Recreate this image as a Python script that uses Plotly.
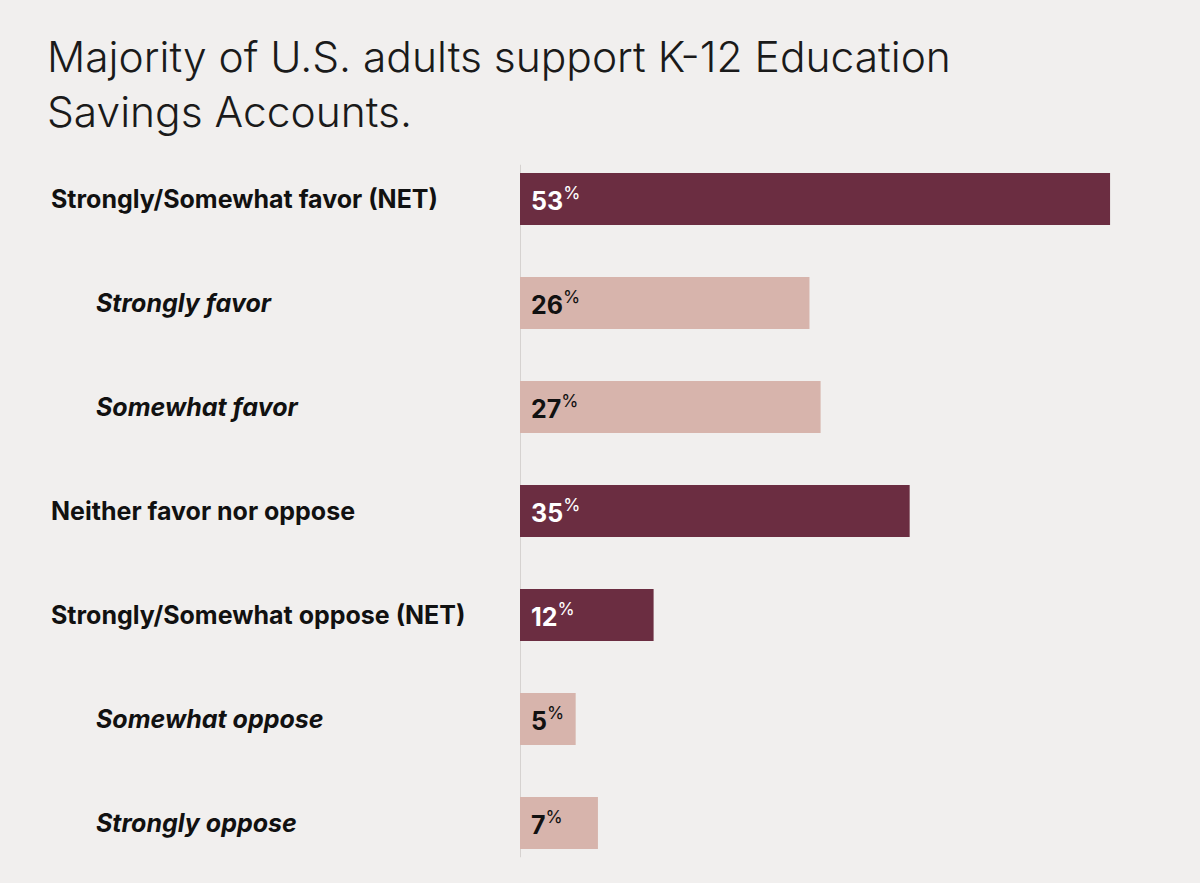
import plotly.graph_objects as go

categories = [
    "Strongly/Somewhat favor (NET)",
    "Strongly favor",
    "Somewhat favor",
    "Neither favor nor oppose",
    "Strongly/Somewhat oppose (NET)",
    "Somewhat oppose",
    "Strongly oppose",
]
values = [53, 26, 27, 35, 12, 5, 7]
is_net = [True, False, False, True, True, False, False]
title_text = "Majority of U.S. adults support K-12 Education<br>Savings Accounts."

DARK = "#6b2d41"
LIGHT = "#d7b4ac"
BG = "#f1efee"
FONT = "Inter"

colors = [DARK if n else LIGHT for n in is_net]

fig = go.Figure()
fig.add_trace(go.Bar(
    y=categories,
    x=values,
    orientation="h",
    marker=dict(color=colors, line=dict(width=0)),
    width=0.5,
    hoverinfo="skip",
))

annotations = []
for cat, val, net in zip(categories, values, is_net):
    annotations.append(dict(
        x=0, y=cat, xref="x", yref="y",
        text=f"<b>{val}</b><sup>%</sup>",
        xanchor="left", yanchor="middle", xshift=9, showarrow=False,
        font=dict(family=FONT, size=25, color="#ffffff" if net else "#111111"),
    ))
    if net:
        label = f"<b>{cat}</b>"
        shift = -471
    else:
        label = f"<b><i>{cat}</i></b>"
        shift = -426
    annotations.append(dict(
        x=0, y=cat, xref="x", yref="y",
        text=label, xanchor="left", yanchor="middle", xshift=shift,
        showarrow=False,
        font=dict(family=FONT, size=25, color="#111111"),
    ))

annotations.append(dict(
    x=(45 - 520) / 668, y=1 + (147 - 29) / 728, xref="paper", yref="paper",
    text=title_text, xanchor="left", yanchor="top", align="left",
    showarrow=False,
    font=dict(family=FONT, size=42.5, color="#1a1a1a", weight=300),
))

fig.update_layout(
    width=1200, height=883,
    paper_bgcolor=BG, plot_bgcolor=BG,
    margin=dict(l=520, r=12, t=147, b=8),
    showlegend=False,
    xaxis=dict(range=[0, 60], visible=False, fixedrange=True),
    yaxis=dict(range=[6.5, -0.5], visible=False, type="category",
               categoryorder="array", categoryarray=categories),
    annotations=annotations,
    shapes=[dict(type="line", xref="x", yref="y", x0=0, x1=0, y0=-0.33, y1=6.33,
                 line=dict(color="#d6d2d0", width=2), layer="below")],
    bargap=0.5,
)

fig.write_html("out.html", config={"displayModeBar": False},
               post_script="document.body.style.margin='0';")
